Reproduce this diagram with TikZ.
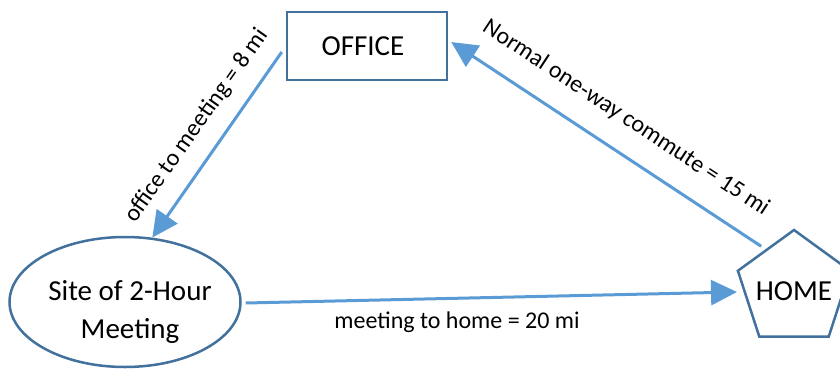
\documentclass[tikz,border=0pt]{standalone}
\usepackage{fontspec}
\setmainfont{Carlito}
\usetikzlibrary{shapes.geometric,arrows.meta,calc}
\definecolor{outl}{HTML}{41719C}
\definecolor{conncol}{HTML}{5B9BD5}
\begin{document}
\begin{tikzpicture}[x=1pt,y=-1pt,
  shapebox/.style={draw=outl, line width=2.5pt, fill=white, inner sep=0pt},
  inlab/.style={font=\fontsize{29}{38}\selectfont, inner sep=0pt, align=center},
  connector/.style={draw=conncol, line width=3pt, -{Triangle[length=26pt,width=25pt]}},
  lab/.style={font=\fontsize{24}{28}\selectfont, inner sep=0pt}]
\useasboundingbox (0,0) rectangle (840,369);
\clip (0,0) rectangle (840,369);
\node[shapebox, rectangle, minimum width=160pt, minimum height=68pt,
      label={[inlab, xshift=-4pt]center:OFFICE}] (office) at (367,46) {};
\node[shapebox, ellipse, minimum width=231pt, minimum height=130pt,
      label={[inlab, xshift=5pt, yshift=-10pt]center:Site of 2-Hour\\Meeting}] (meet) at (125,302) {};
\node[shapebox, regular polygon, regular polygon sides=5, minimum size=118pt,
      label={[inlab, yshift=-2pt]center:HOME}] (home) at (794,289) {};
\draw[connector] ([shift={(-4,6)}]office.west) -- (meet.67);
\draw[connector] ($(home.corner 1)!0.57!(home.corner 2)+(0,-6)$) -- ([shift={(3,-4)}]office.east);
\draw[connector] ([shift={(4,1)}]meet.east) -- ($(home.center)+(-57,3)$);
\node[lab, rotate=54.7] (l1) at (197,126) {office to meeting = 8 mi};
\node[lab, rotate=-33.3] (l2) at (626,118) {Normal one-way commute = 15 mi};
\node[lab] (l3) at (457,322) {meeting to home = 20 mi};
\end{tikzpicture}
\end{document}
